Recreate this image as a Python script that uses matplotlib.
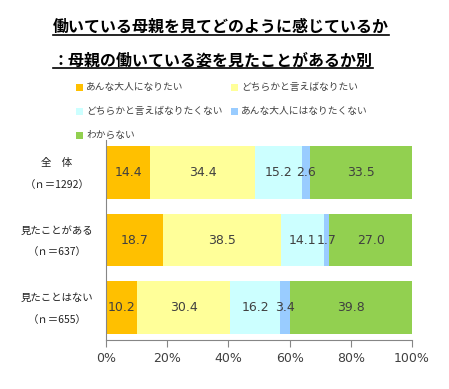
import matplotlib
matplotlib.use("Agg")
import matplotlib.pyplot as plt
from matplotlib.patches import Rectangle
from matplotlib.lines import Line2D
from matplotlib.transforms import blended_transform_factory
import numpy as np

plt.rcParams['font.family'] = ['Noto Sans CJK JP', 'DejaVu Sans']

title1 = "働いている母親を見てどのように感じているか"
title2 = "：母親の働いている姿を見たことがあるか別"
groups = ["全　体", "見たことがある", "見たことはない"]
group_n = ["（ｎ＝1292）", "（ｎ＝637）", "（ｎ＝655）"]
series = ["あんな大人になりたい", "どちらかと言えばなりたい", "どちらかと言えばなりたくない",
          "あんな大人にはなりたくない", "わからない"]
colors = ["#FFC000", "#FFFF99", "#CCFFFF", "#99CCFF", "#92D050"]
values = [
    [14.4, 18.7, 10.2],
    [34.4, 38.5, 30.4],
    [15.2, 14.1, 16.2],
    [2.6, 1.7, 3.4],
    [33.5, 27.0, 39.8],
]
xticks = [0, 20, 40, 60, 80, 100]
xticklabels = ["0%", "20%", "40%", "60%", "80%", "100%"]

W, H = 449, 389
fig = plt.figure(figsize=(W / 100, H / 100), dpi=100)
ax = fig.add_axes([106 / W, 1 - 340 / H, (412 - 106) / W, 200 / H])

txtc = "#404040"
y = np.arange(len(groups))
left = np.zeros(len(groups))
for s, c, v in zip(series, colors, values):
    v = np.array(v)
    ax.barh(y, v, left=left, height=0.78, color=c, edgecolor='none')
    for yi, li, vi in zip(y, left, v):
        ax.text(li + vi / 2, yi, f"{vi:.1f}", ha='center', va='center',
                fontsize=9, color=txtc, family='DejaVu Sans')
    left += v

ax.set_xlim(0, 100)
ax.set_ylim(2.48, -0.48)
ax.set_yticks([])
ax.set_xticks(xticks)
ax.set_xticklabels(xticklabels, fontsize=9, color=txtc, family='DejaVu Sans')
ax.tick_params(axis='x', length=5, color='#868686', pad=4)
for sp in ['top', 'right']:
    ax.spines[sp].set_visible(False)
ax.spines['left'].set_color('#868686')
ax.spines['bottom'].set_color('#868686')

# group labels
tr = blended_transform_factory(fig.transFigure, ax.transData)
for yi, g, n in zip(y, groups, group_n):
    ax.text(57 / W, yi - 0.14, g, transform=tr,
            ha='center', va='center', fontsize=7.5, color='#222222')
    ax.text(57 / W, yi + 0.18, n, transform=tr,
            ha='center', va='center', fontsize=7.5, color='#222222')

# titles with underline
renderer = fig.canvas.get_renderer()
for t, yc in [(title1, 27), (title2, 60)]:
    tx = fig.text(53 / W, 1 - yc / H, t, ha='left', va='center', fontsize=11.5,
                  fontweight='bold', color='black')
    bb = tx.get_window_extent(renderer)
    x0, x1 = bb.x0 / W, bb.x1 / W
    yl = 1 - (yc + 7.5) / H
    fig.add_artist(Line2D([x0, x1], [yl, yl], transform=fig.transFigure,
                          color='black', lw=1.2))

# legend
pos = [(76, 87), (231, 87), (76, 111), (231, 111), (76, 135)]
for (px, py), s, c in zip(pos, series, colors):
    fig.add_artist(Rectangle((px / W, 1 - (py + 3.5) / H), 7 / W, 7 / H,
                             transform=fig.transFigure, color=c, lw=0))
    fig.text((px + 10) / W, 1 - py / H, s, ha='left', va='center',
             fontsize=7, color=txtc)

fig.savefig("out.png", dpi=100)
